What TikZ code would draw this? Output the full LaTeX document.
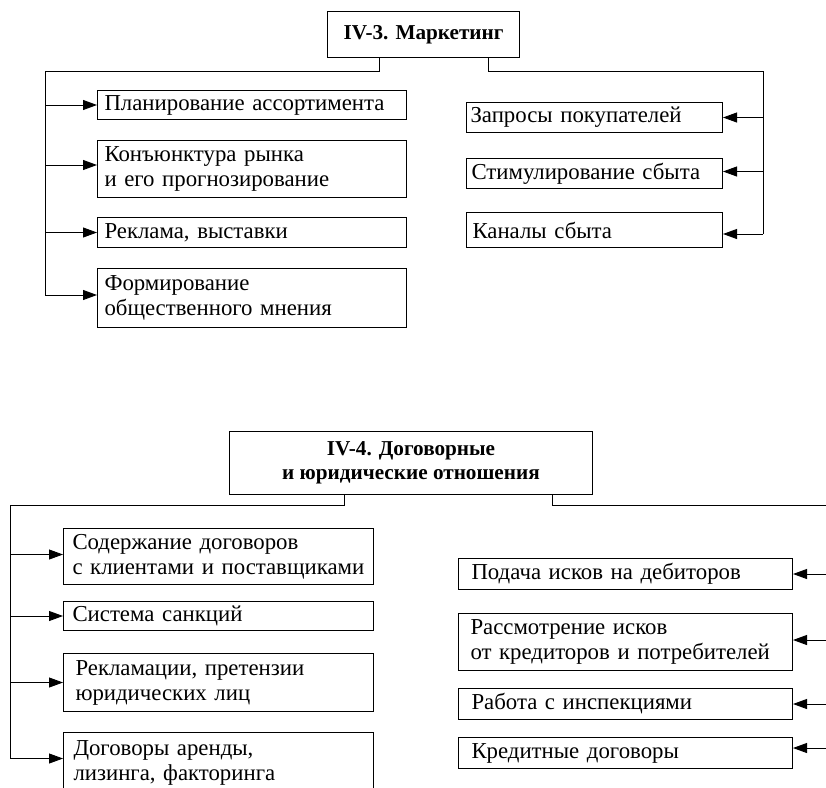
\documentclass[tikz,border=0pt]{standalone}
\usepackage{fontspec}
\setmainfont{Liberation Serif}
\usetikzlibrary{arrows.meta}
\begin{document}
\begin{tikzpicture}[x=1pt,y=-1pt,
  box/.style={draw, line width=1pt, rectangle, anchor=north west, align=left,
    inner ysep=0pt, font=\fontsize{22.8}{25}\selectfont},
  head/.style={draw, line width=1pt, rectangle, anchor=north west, align=center,
    inner sep=0pt, font=\fontsize{21.2}{24}\selectfont\bfseries},
  conn/.style={line width=0.9pt},
  arr/.style={line width=0.9pt, -{Triangle[length=14pt,width=10pt]}}]
\useasboundingbox (0,0) rectangle (826,787);
\clip (0,0) rectangle (826,787);

% ---------- IV-3 ----------
\node[head, minimum width=192pt, minimum height=46pt] (t3) at (327,11) {IV-3. Маркетинг};

\node[box, minimum width=309pt, minimum height=29pt, inner xsep=7pt, text width=295pt] (a1) at (97,90) {Планирование ассортимента};
\node[box, minimum width=309pt, minimum height=57pt, inner xsep=7pt, text width=295pt] (a2) at (97,140) {Конъюнктура рынка\\и его прогнозирование};
\node[box, minimum width=309pt, minimum height=30pt, inner xsep=7pt, text width=295pt] (a3) at (97,217) {Реклама, выставки};
\node[box, minimum width=309pt, minimum height=59pt, inner xsep=7pt, text width=295pt] (a4) at (97,268) {Формирование\\общественного мнения};

\node[box, minimum width=256pt, minimum height=30pt, inner xsep=4pt, text width=248pt] (b1) at (466,102) {Запросы покупателей};
\node[box, minimum width=256pt, minimum height=30pt, inner xsep=5pt, text width=246pt] (b2) at (466,158) {Стимулирование сбыта};
\node[box, minimum width=256pt, minimum height=35pt, inner xsep=6pt, text width=244pt] (b3) at (466,212) {Каналы сбыта};

% entry points of the arrows
\coordinate (a1p) at (a1.west);
\coordinate (a2p) at ([yshift=4pt]a2.west);
\coordinate (a3p) at (a3.west);
\coordinate (a4p) at ([yshift=3pt]a4.west);
\coordinate (b1p) at (b1.east);
\coordinate (b2p) at ([yshift=2pt]b2.east);
\coordinate (b3p) at ([yshift=-4pt]b3.east);

\coordinate (lb3) at (45,71);
\coordinate (rb3) at (763,71);
\draw[conn] ([xshift=52pt]t3.south west) |- (lb3) -- (lb3 |- a4p);
\foreach \p in {a1p,a2p,a3p,a4p} \draw[arr] (lb3 |- \p) -- (\p);

\draw[conn] ([xshift=-32pt]t3.south east) |- (rb3) -- (rb3 |- b3p);
\foreach \p in {b1p,b2p,b3p} \draw[arr] (rb3 |- \p) -- (\p);

% ---------- IV-4 ----------
\node[head, minimum width=363pt, minimum height=63pt] (t4) at (229,431) {IV-4. Договорные\\и юридические отношения};

\node[box, minimum width=310pt, minimum height=56pt, inner xsep=9pt, text width=292pt] (c1) at (63,528) {Содержание договоров\\с клиентами и поставщиками};
\node[box, minimum width=310pt, minimum height=29pt, inner xsep=9pt, text width=292pt] (c2) at (63,601) {Система санкций};
\node[box, minimum width=310pt, minimum height=58pt, inner xsep=12pt, text width=286pt] (c3) at (63,653) {Рекламации, претензии\\юридических лиц};
\node[box, minimum width=310pt, minimum height=60pt, inner xsep=10pt, text width=290pt] (c4) at (63,732) {Договоры аренды,\\лизинга, факторинга};

\node[box, minimum width=334pt, minimum height=31pt, inner xsep=13pt, text width=308pt] (d1) at (458,558) {Подача исков на дебиторов};
\node[box, minimum width=334pt, minimum height=57pt, inner xsep=12pt, text width=310pt] (d2) at (458,613) {Рассмотрение исков\\от кредиторов и потребителей};
\node[box, minimum width=334pt, minimum height=31pt, inner xsep=13pt, text width=308pt] (d3) at (458,688) {Работа с инспекциями};
\node[box, minimum width=334pt, minimum height=31pt, inner xsep=13pt, text width=308pt] (d4) at (458,737) {Кредитные договоры};

\coordinate (c1p) at ([yshift=2pt]c1.west);
\coordinate (c2p) at (c2.west);
\coordinate (c3p) at (c3.west);
\coordinate (c4p) at ([yshift=4pt]c4.west);
\coordinate (d1p) at (d1.east);
\coordinate (d2p) at ([yshift=2pt]d2.east);
\coordinate (d3p) at (d3.east);
\coordinate (d4p) at ([yshift=5pt]d4.east);

\coordinate (lb4) at (10,505);
\coordinate (rb4) at (830,505);
\draw[conn] ([xshift=115pt]t4.south west) |- (lb4) -- (lb4 |- c4p);
\foreach \p in {c1p,c2p,c3p,c4p} \draw[arr] (lb4 |- \p) -- (\p);

\draw[conn] ([xshift=-41pt]t4.south east) |- (rb4);
\foreach \p in {d1p,d2p,d3p,d4p} \draw[arr] (rb4 |- \p) -- (\p);
\end{tikzpicture}
\end{document}
